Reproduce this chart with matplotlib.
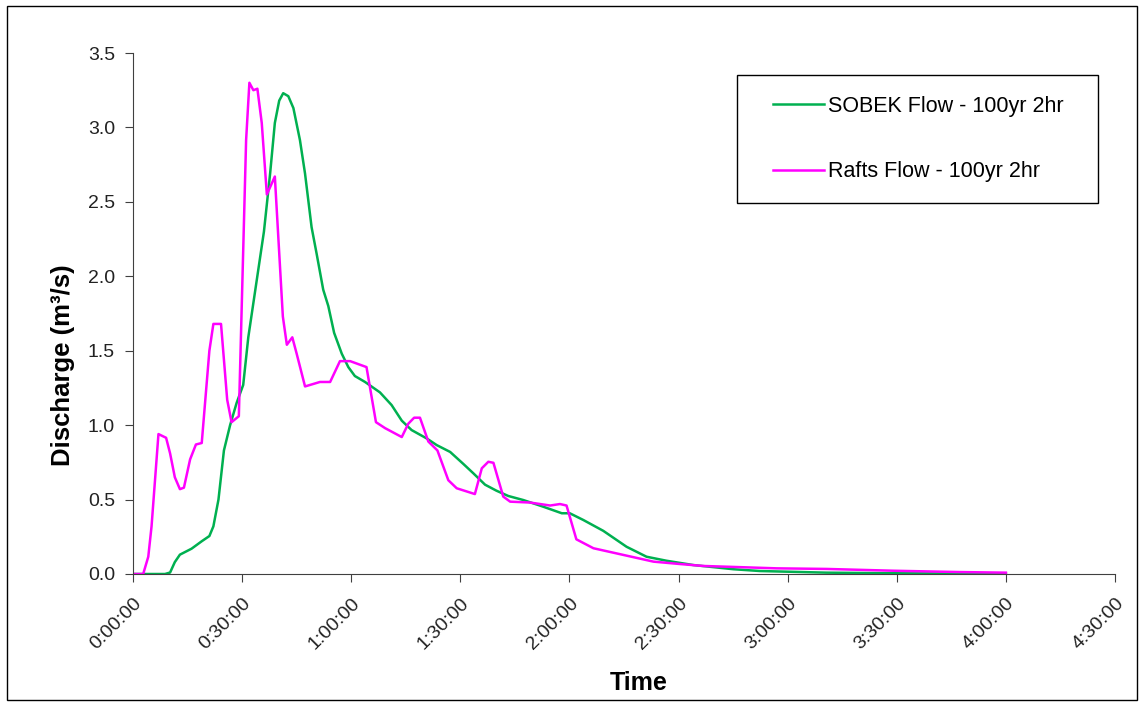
import matplotlib.pyplot as plt
from matplotlib.ticker import FuncFormatter, MultipleLocator
from matplotlib.patches import Rectangle

plt.rcParams['font.family'] = ['Liberation Sans', 'DejaVu Sans']

# time in minutes, discharge in m3/s
sobek_t = [0, 7.0, 8.8, 10.2, 11.5, 12.9, 16.1, 18.9, 21.0, 22.1, 23.5, 25.0, 26.7,
           28.5, 30.3, 31.7, 34.0, 36.0, 37.7, 39.0, 40.2, 41.3, 42.7, 44.1, 45.9,
           47.3, 49.1, 50.5, 52.3, 53.7, 55.3, 57.4, 59.2, 61.0, 63.8, 67.9, 71.1,
           73.9, 76.6, 80.8, 83.5, 87.2, 90.8, 93.6, 96.8, 99.9, 103.2, 107.3, 112.8,
           117.9, 120.1, 123.8, 129.3, 135.7, 141.2, 146.7, 154.1, 165.1, 172.4,
           190.7, 209.0, 240.0]
sobek_q = [0, 0, 0, 0.01, 0.08, 0.13, 0.17, 0.22, 0.255, 0.32, 0.50, 0.83, 1.0,
           1.15, 1.27, 1.59, 1.97, 2.30, 2.69, 3.03, 3.18, 3.23, 3.21, 3.13, 2.915,
           2.69, 2.33, 2.15, 1.91, 1.80, 1.62, 1.48, 1.39, 1.33, 1.29, 1.22, 1.135,
           1.03, 0.967, 0.91, 0.866, 0.82, 0.74, 0.676, 0.60, 0.56, 0.524, 0.497, 0.452,
           0.408, 0.408, 0.363, 0.29, 0.183, 0.116, 0.089, 0.06, 0.032, 0.02,
           0.009, 0.005, 0.003]

rafts_t = [0, 2.8, 4.2, 5.1, 7.0, 9.1, 10.2, 11.5, 12.9, 14.0, 15.7, 17.3, 18.9,
           21.0, 22.1, 24.2, 25.9, 27.1, 29.1, 31.1, 32.0, 33.1, 34.2, 35.4, 36.8,
           39.0, 41.2, 42.3, 43.8, 45.0, 47.3, 51.4, 54.2, 56.9, 59.7, 64.2, 66.8,
           69.3, 73.9, 75.7, 77.3, 78.9, 81.2, 83.7, 86.7, 89.0, 94.0, 95.9, 97.7,
           99.1, 101.8, 103.7, 109.2, 114.7, 117.4, 119.2, 121.9, 126.6, 132.1,
           143.1, 150.4, 156.8, 163.2, 177.0, 190.7, 209.0, 227.4, 240.0]
rafts_q = [0, 0, 0.116, 0.32, 0.94, 0.915, 0.81, 0.65, 0.57, 0.58, 0.77, 0.87, 0.88,
           1.50, 1.68, 1.68, 1.17, 1.02, 1.06, 2.915, 3.30, 3.25, 3.26, 3.03, 2.55,
           2.67, 1.73, 1.54, 1.59, 1.48, 1.26, 1.29, 1.29, 1.43, 1.43, 1.39, 1.02,
           0.98, 0.92, 1.01, 1.05, 1.05, 0.89, 0.83, 0.63, 0.576, 0.537, 0.71, 0.754,
           0.747, 0.52, 0.486, 0.48, 0.46, 0.47, 0.46, 0.233, 0.173, 0.143,
           0.083, 0.067, 0.054, 0.049, 0.038, 0.034, 0.022, 0.013, 0.009]


def hms(x, pos):
    m = int(round(x))
    return f'{m // 60}:{m % 60:02d}:00'


fig = plt.figure(figsize=(11.45, 7.07), dpi=100)
ax = fig.add_axes([133 / 1145, 1 - 574 / 707, 982 / 1145, 521 / 707])

# outer chart border
fig.patches.append(Rectangle((7 / 1145, 1 - 700 / 707), 1130 / 1145, 694 / 707,
                             transform=fig.transFigure, fill=False,
                             edgecolor='black', linewidth=1))

ax.plot(sobek_t, sobek_q, color='#00B050', linewidth=1.8, label='SOBEK Flow - 100yr 2hr')
ax.plot(rafts_t, rafts_q, color='#FF00FF', linewidth=1.8, label='Rafts Flow - 100yr 2hr')

ax.set_xlim(0, 270)
ax.set_ylim(0, 3.5)
ax.xaxis.set_major_locator(MultipleLocator(30))
ax.yaxis.set_major_locator(MultipleLocator(0.5))
ax.xaxis.set_major_formatter(FuncFormatter(hms))
ax.yaxis.set_major_formatter(FuncFormatter(lambda v, p: f'{v:.1f}'))

for s in ['top', 'right']:
    ax.spines[s].set_visible(False)
for s in ['left', 'bottom']:
    ax.spines[s].set_color('#404040')
ax.tick_params(direction='out', length=6, colors='#404040', labelcolor='#222222', labelsize=14)
ax.tick_params(axis='y', pad=7)
ax.tick_params(axis='x', pad=9)
plt.setp(ax.get_xticklabels(), rotation=45, ha='right', rotation_mode='anchor')

ax.set_xlabel('Time', fontsize=18, fontweight='bold')
ax.xaxis.set_label_coords(0.515, -0.186)
ax.set_ylabel('Discharge (m³/s)', fontsize=18.5, fontweight='bold')
ax.yaxis.set_label_coords(-0.059, 0.401)

# legend box drawn separately so the padding matches
ax.add_patch(Rectangle(((737 - 133) / 982, (574 - 203) / 521), 361 / 982, 128 / 521,
                       transform=ax.transAxes, fill=False, edgecolor='black',
                       linewidth=1, clip_on=False, zorder=5))
leg = ax.legend(loc='upper left', bbox_to_anchor=((773 - 133) / 982, (574 - 96) / 521),
                fontsize=15.5, frameon=False, handlelength=2.37, handletextpad=0.2,
                labelspacing=2.05, borderpad=0, borderaxespad=0)

fig.savefig('out.png', dpi=100)
